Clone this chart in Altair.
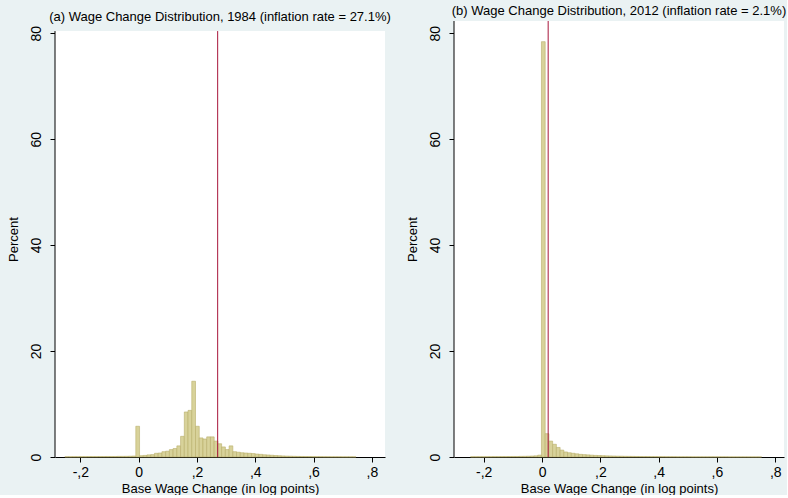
import altair as alt
import pandas as pd

# ---------------- data (percent of observations per bin) ----------------
BIN_WIDTH = 0.0128

# Panel (a): 1984
a_start = -0.253
a_pct = [
    0.05, 0.05, 0.06, 0.06, 0.07, 0.07, 0.08, 0.08, 0.08, 0.09,
    0.09, 0.10, 0.10, 0.10, 0.12, 0.12, 0.13, 0.15, 0.18,
    5.8,
    0.25, 0.30, 0.40, 0.45, 0.70, 0.75, 1.0, 1.1, 1.4, 1.6, 2.1, 3.9, 8.5, 8.8,
    14.3,
    5.8, 3.6, 3.4, 3.8, 3.8, 3.0,
    2.5, 1.9, 1.4, 2.1, 1.0, 0.9, 0.8,
    0.75, 0.70, 0.65, 0.55, 0.50, 0.42, 0.38, 0.33, 0.28, 0.24,
    0.20, 0.17, 0.15, 0.13, 0.11, 0.10, 0.09, 0.08, 0.07, 0.06,
    0.06, 0.05, 0.05, 0.04, 0.04, 0.04, 0.03, 0.03, 0.03, 0.03,
]
a_inflation = 0.271

# Panel (b): 2012
b_start = -0.2452
b_pct = [
    0.05, 0.05, 0.05, 0.05, 0.06, 0.06, 0.07, 0.07, 0.08, 0.08,
    0.09, 0.10, 0.10, 0.12, 0.13, 0.15, 0.18, 0.22, 0.35,
    78.4,
    4.4, 3.0, 2.4, 1.8, 1.3, 0.95, 0.8, 0.7, 0.6, 0.5,
    0.45, 0.40, 0.35, 0.30, 0.28, 0.25, 0.22, 0.20, 0.18,
    0.16, 0.15, 0.13, 0.12, 0.11, 0.10, 0.09, 0.08, 0.08, 0.07,
    0.07, 0.06, 0.06, 0.05, 0.05, 0.05, 0.04, 0.04, 0.04, 0.04,
    0.03, 0.03, 0.03, 0.03, 0.03, 0.03, 0.03, 0.03, 0.03, 0.03,
    0.02, 0.02, 0.02, 0.02, 0.02, 0.02, 0.02, 0.02, 0.02,
]
b_inflation = 0.021

x_ticks = [-0.2, 0, 0.2, 0.4, 0.6, 0.8]
y_ticks = [0, 20, 40, 60, 80]

title_a = "(a) Wage Change Distribution, 1984 (inflation rate = 27.1%)"
title_b = "(b) Wage Change Distribution, 2012 (inflation rate = 2.1%)"
x_title = "Base Wage Change (in log points)"
y_title = "Percent"

# ---------------- styling ----------------
FONT = "Liberation Sans"
BG = "#eaf2f3"
BAR_FILL = "#d8d29a"
BAR_STROKE = "#b9ae6a"
LINE_COLOR = "#a8163b"
W = 330
H = 436
YMAX = 82.3          # common y range of both plot regions
A_TOP = 80.4         # panel (a) plot region ends a little lower

LABEL_EXPR = (
    "datum.value == 0 ? '0' : "
    "replace(replace(format(datum.value, '.1f'), '0.', ','), '\u2212', '-')"
)


def panel(start, pct, infl, xdom, ytop, title, title_offset):
    df = pd.DataFrame({
        "x0": [start + i * BIN_WIDTH for i in range(len(pct))],
        "pct": pct,
    })
    df["x1"] = df["x0"] + BIN_WIDTH
    xscale = alt.Scale(domain=xdom, nice=False, zero=False)
    yscale = alt.Scale(domain=[0, YMAX], nice=False, zero=False)
    xaxis = alt.Axis(
        values=x_ticks, labelExpr=LABEL_EXPR,
        title=x_title, grid=False, tickSize=5, labelPadding=3,
        labelFontSize=14, titleFontSize=13, titlePadding=3,
        domainColor="#000", tickColor="#000", labelColor="#000", titleColor="#000",
        labelFont=FONT, titleFont=FONT, titleFontWeight="normal",
    )
    yaxis = alt.Axis(
        values=y_ticks, title=y_title, grid=False, tickSize=5, labelPadding=7,
        labelAngle=-90, labelAlign="center", labelBaseline="bottom",
        labelFontSize=14, titleFontSize=13, titlePadding=9, domain=False,
        tickColor="#000", labelColor="#000", titleColor="#000",
        labelFont=FONT, titleFont=FONT, titleFontWeight="normal",
    )
    frame = pd.DataFrame({"xa": [xdom[0]], "xb": [xdom[1]], "y0": [0.0], "y1": [ytop]})
    # white plot region
    region = alt.Chart(frame).mark_rect(fill="white", strokeWidth=0).encode(
        x=alt.X("xa:Q", scale=xscale, axis=xaxis),
        x2="xb:Q",
        y=alt.Y("y0:Q", scale=yscale, axis=yaxis),
        y2="y1:Q",
    )
    # left axis line (only as tall as the plot region)
    yline = alt.Chart(frame).mark_rule(color="#000", strokeWidth=1).encode(
        x=alt.X("xa:Q", scale=xscale, axis=xaxis),
        y=alt.Y("y0:Q", scale=yscale, axis=yaxis),
        y2="y1:Q",
    )
    bars = alt.Chart(df).mark_rect(
        fill=BAR_FILL, stroke=BAR_STROKE, strokeWidth=0.6
    ).encode(
        x=alt.X("x0:Q", scale=xscale, axis=xaxis),
        x2="x1:Q",
        y=alt.Y("pct:Q", scale=yscale, axis=yaxis),
        y2=alt.datum(0),
    )
    rdf = pd.DataFrame({"x0": [infl], "y0": [0.0], "y1": [ytop]})
    rule = alt.Chart(rdf).mark_rule(color=LINE_COLOR, strokeWidth=1).encode(
        x=alt.X("x0:Q", scale=xscale, axis=xaxis),
        y=alt.Y("y0:Q", scale=yscale, axis=yaxis),
        y2="y1:Q",
    )
    return alt.layer(region, yline, bars, rule).properties(
        width=W, height=H,
        title=alt.TitleParams(
            text=title, font=FONT, fontSize=13, fontWeight="normal",
            color="#000", anchor="middle", frame="group", offset=title_offset,
        ),
    )


pa = panel(a_start, a_pct, a_inflation, [-0.287, 0.845], A_TOP, title_a, -3)
pb = panel(b_start, b_pct, b_inflation, [-0.302, 0.830], YMAX, title_b, 3)

chart = alt.hconcat(pa, pb, spacing=69, bounds="flush").properties(
    background=BG,
    padding={"left": 7, "top": 4, "right": 0, "bottom": 0},
).configure_view(stroke=None)

chart.save("out.html", embed_options={"renderer": "svg", "actions": False})
